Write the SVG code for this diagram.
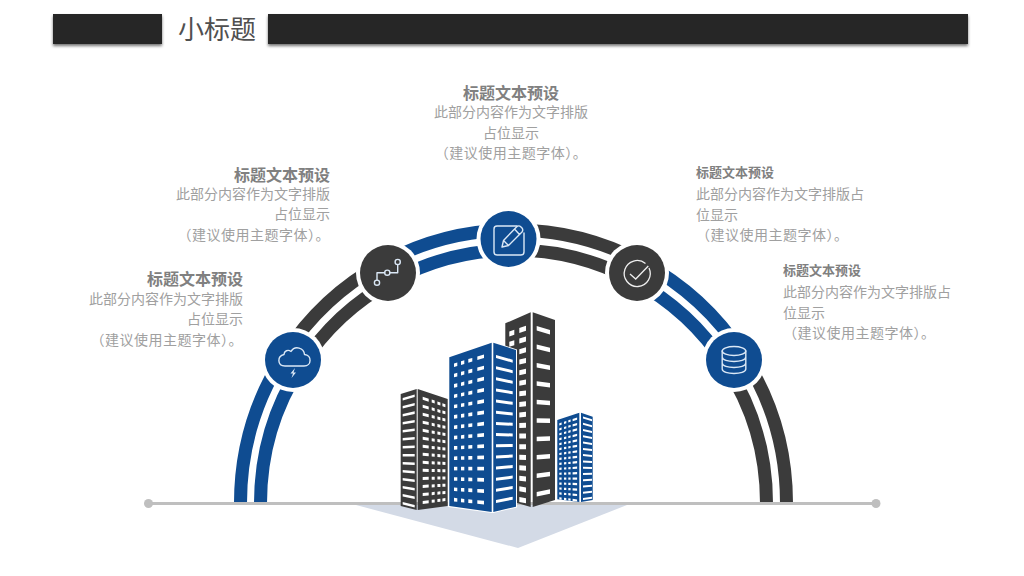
<svg xmlns="http://www.w3.org/2000/svg" width="1024" height="576" viewBox="0 0 1024 576">
<defs>
<filter id="sh" x="-5%" y="-30%" width="110%" height="170%"><feDropShadow dx="0" dy="2" stdDeviation="1.6" flood-color="#000" flood-opacity=".55"/></filter>
<g id="wBL" fill="#fff"><rect x="4.7" width="3.3" height="3.6"/><rect x="11.7" width="3.3" height="3.6"/><rect x="19" width="4" height="3.6"/><rect x="28" width="6.7" height="3.6"/></g>
<rect id="wBR" fill="#fff" width="16.7" height="3"/>
<rect id="wDL" fill="#fff" width="12" height="2.6"/>
<g id="wDR" fill="#fff"><rect x="5" width="6" height="3"/><rect x="14" width="3" height="3"/><rect x="19.7" width="3" height="3"/><rect x="24.7" width="3" height="3"/></g>
<g id="wTL" fill="#fff"><rect x="4" width="5" height="5"/><rect x="14" width="6.7" height="5"/></g>
<rect id="wTR" fill="#fff" width="13.3" height="4.5"/>
<g id="wSL" fill="#fff"><rect x="2" width="2.3" height="2.2"/><rect x="6.7" width="2.3" height="2.2"/><rect x="11" width="2.3" height="2.2"/><rect x="15.3" width="4.5" height="2.2"/></g>
<rect id="wSR" fill="#fff" width="9" height="2"/>
</defs>
<style>
text{font-family:"Noto Sans CJK SC","Liberation Sans",sans-serif}
.t{font-size:16px;font-weight:700;fill:#808080}
.t2{font-size:13px;font-weight:700;fill:#808080}
.b{font-size:14px;fill:#a0a0a0}
.w{letter-spacing:.5px}
.r{text-anchor:end}
.m{text-anchor:middle}
.bar{fill:#262626;filter:url(#sh)}
.arc{fill:none;stroke-width:13}
.bl{stroke:#0f4c91}
.dk{stroke:#3b3b3b}
.halo{fill:#fff}
.cb{fill:#0f4c91}
.cd{fill:#3b3b3b}
.ic{fill:none;stroke:#dbe8f6;stroke-width:1.4;stroke-linejoin:round;stroke-linecap:round}
.fb{fill:#0f4c91}
.fd{fill:#3b3b3b}
</style>
<rect width="1024" height="576" fill="#fff"/>
<g id="header">
<rect class="bar" x="53" y="14" width="109" height="30"/>
<rect class="bar" x="268" y="14" width="700" height="30"/>
<text x="178" y="39" font-size="26" fill="#505050">小标题</text>
</g>
<polygon id="floor" points="356,505 627,505 518,548" fill="#d3dae6"/>
<g id="connectors">
<path class="arc bl" d="M240.500 503A273 273 0 0 1 284.500 354.500"/>
<path class="arc dk" d="M284.500 354.500A273 273 0 0 1 382.700 263.300"/>
<path class="arc bl" d="M382.700 263.300A273 273 0 0 1 508.300 230"/>
<path class="arc dk" d="M508.300 230A273 273 0 0 1 642.600 262.500"/>
<path class="arc bl" d="M642.600 262.500A273 273 0 0 1 742.500 354.500"/>
<path class="arc dk" d="M742.500 354.500A273 273 0 0 1 786.500 503"/>
<path class="arc bl" d="M260.500 503A253 253 0 0 1 301.200 365.400"/>
<path class="arc dk" d="M301.200 365.400A253 253 0 0 1 392.300 280.900"/>
<path class="arc bl" d="M392.300 280.900A253 253 0 0 1 508.700 250"/>
<path class="arc dk" d="M508.700 250A253 253 0 0 1 633.200 280.100"/>
<path class="arc bl" d="M633.200 280.100A253 253 0 0 1 725.800 365.400"/>
<path class="arc dk" d="M725.800 365.400A253 253 0 0 1 766.500 503"/>
<line x1="148" y1="503.500" x2="876" y2="503.500" stroke="#bfbfbf" stroke-width="3"/>
<circle cx="148.500" cy="503.500" r="4.500" fill="#bfbfbf"/>
<circle cx="876" cy="503.500" r="4.500" fill="#bfbfbf"/>
</g>
<g id="node-cloud">
<circle class="halo" cx="293" cy="360" r="32"/><circle class="cb" cx="293" cy="360" r="28"/>
<path class="ic" d="M285 366H304C312 366 312 355 304.500 354.500C304 348 295 345 291 351.500C288 349 284 351 284 354.500C277 356 277 366 285 366Z"/>
<path d="M295 368L290.500 373.500H293L291.500 378L296 372.500H293.500Z" fill="#dbe8f6"/>
</g>
<g id="node-path">
<circle class="halo" cx="388" cy="273" r="32"/><circle class="cd" cx="388" cy="273" r="28"/>
<path class="ic" d="M377 280V272.700H384.700M390 272.700H397.700V264.500"/>
<circle class="ic" cx="377" cy="282.700" r="2.600"/><circle class="ic" cx="387.300" cy="272.700" r="2.600"/><circle class="ic" cx="397.700" cy="262" r="2.600"/>
</g>
<g id="node-edit">
<circle class="halo" cx="508.500" cy="239" r="32"/><circle class="cb" cx="508.500" cy="239" r="28"/>
<path class="ic" d="M517 226H497Q494 226 494 229V252Q494 255 497 255H521Q524 255 524 252V233"/>
<path class="ic" d="M502 247L503.500 240.500L517 226.500Q519 225 521 227L522 228Q523.500 230 522 232L508.500 245.500ZM503.500 240.500L508.500 245.500M514.500 229L519.500 234.500"/>
</g>
<g id="node-check">
<circle class="halo" cx="637" cy="273" r="32"/><circle class="cd" cx="637" cy="273" r="28"/>
<path d="M645.500 263.500A13 13 0 1 0 649 268" fill="none" stroke="#eee" stroke-width="1.300"/>
<path d="M630 274L635.700 279L648.300 266" fill="none" stroke="#eee" stroke-width="1.300"/>
</g>
<g id="node-db">
<circle class="halo" cx="734" cy="360" r="32"/><circle class="cb" cx="734" cy="360" r="28"/>
<ellipse class="ic" cx="734" cy="351" rx="11.800" ry="4.500"/>
<path class="ic" d="M722.200 351V369C722.200 375 745.800 375 745.800 369V351M722.200 357C722.200 363 745.800 363 745.800 357M722.200 363C722.200 369 745.800 369 745.800 363"/>
</g>
<g id="building-tall">
<polygon class="fd" points="505.300,323.300 530.700,312.300 530.700,507 517,503 505.300,503"/>
<polygon class="fd" points="532.700,312.300 555,320 555,500 532.700,507"/>
<use href="#wTL" transform="matrix(1,-.35,0,1,505.300,332.900)"/><use href="#wTL" transform="matrix(1,-.316,0,1,505.300,343)"/><use href="#wTL" transform="matrix(1,-.28,0,1,505.300,353.100)"/><use href="#wTL" transform="matrix(1,-.25,0,1,505.300,363.100)"/><use href="#wTL" transform="matrix(1,-.21,0,1,505.300,373.200)"/><use href="#wTL" transform="matrix(1,-.18,0,1,505.300,383.300)"/><use href="#wTL" transform="matrix(1,-.146,0,1,505.300,393.400)"/><use href="#wTL" transform="matrix(1,-.11,0,1,505.300,403.500)"/><use href="#wTL" transform="matrix(1,-.08,0,1,505.300,413.500)"/><use href="#wTL" transform="matrix(1,-.044,0,1,505.300,423.600)"/><use href="#wTL" transform="matrix(1,-.01,0,1,505.300,433.700)"/><use href="#wTL" transform="matrix(1,.024,0,1,505.300,443.800)"/><use href="#wTL" transform="matrix(1,.058,0,1,505.300,453.900)"/><use href="#wTL" transform="matrix(1,.09,0,1,505.300,463.900)"/><use href="#wTL" transform="matrix(1,.126,0,1,505.300,474)"/><use href="#wTL" transform="matrix(1,.16,0,1,505.300,484.100)"/><use href="#wTL" transform="matrix(1,.2,0,1,505.300,494.200)"/>
<use href="#wTR" transform="matrix(1,.3,0,1,536.700,326)"/><use href="#wTR" transform="matrix(1,.245,0,1,536.700,344.400)"/><use href="#wTR" transform="matrix(1,.19,0,1,536.700,362.900)"/><use href="#wTR" transform="matrix(1,.135,0,1,536.700,381.300)"/><use href="#wTR" transform="matrix(1,.08,0,1,536.700,399.800)"/><use href="#wTR" transform="matrix(1,.025,0,1,536.700,418.200)"/><use href="#wTR" transform="matrix(1,-.03,0,1,536.700,436.700)"/><use href="#wTR" transform="matrix(1,-.085,0,1,536.700,455.100)"/><use href="#wTR" transform="matrix(1,-.14,0,1,536.700,473.600)"/><use href="#wTR" transform="matrix(1,-.2,0,1,536.700,492)"/>
</g>
<g id="building-left">
<polygon class="fd" points="400.700,394 416.700,389 416.700,510 400.700,506"/>
<polygon class="fd" points="417.700,389 447.700,399 447.700,506 417.700,510"/>
<use href="#wDL" transform="matrix(1,-.3,0,1,402.700,398)"/><use href="#wDL" transform="matrix(1,-.26,0,1,402.700,406)"/><use href="#wDL" transform="matrix(1,-.22,0,1,402.700,414)"/><use href="#wDL" transform="matrix(1,-.17,0,1,402.700,422)"/><use href="#wDL" transform="matrix(1,-.13,0,1,402.700,430)"/><use href="#wDL" transform="matrix(1,-.09,0,1,402.700,438)"/><use href="#wDL" transform="matrix(1,-.05,0,1,402.700,446)"/><use href="#wDL" transform="matrix(1,-.01,0,1,402.700,454)"/><use href="#wDL" transform="matrix(1,.04,0,1,402.700,462)"/><use href="#wDL" transform="matrix(1,.08,0,1,402.700,470)"/><use href="#wDL" transform="matrix(1,.12,0,1,402.700,478)"/><use href="#wDL" transform="matrix(1,.16,0,1,402.700,486)"/><use href="#wDL" transform="matrix(1,.21,0,1,402.700,494)"/><use href="#wDL" transform="matrix(1,.25,0,1,402.700,502)"/>
<use href="#wDR" transform="matrix(1,.33,0,1,417.700,395)"/><use href="#wDR" transform="matrix(1,.295,0,1,417.700,403.200)"/><use href="#wDR" transform="matrix(1,.26,0,1,417.700,411.400)"/><use href="#wDR" transform="matrix(1,.225,0,1,417.700,419.600)"/><use href="#wDR" transform="matrix(1,.19,0,1,417.700,427.800)"/><use href="#wDR" transform="matrix(1,.155,0,1,417.700,436)"/><use href="#wDR" transform="matrix(1,.12,0,1,417.700,444.200)"/><use href="#wDR" transform="matrix(1,.085,0,1,417.700,452.400)"/><use href="#wDR" transform="matrix(1,.05,0,1,417.700,460.600)"/><use href="#wDR" transform="matrix(1,.015,0,1,417.700,468.800)"/><use href="#wDR" transform="matrix(1,-.02,0,1,417.700,477)"/><use href="#wDR" transform="matrix(1,-.055,0,1,417.700,485.200)"/><use href="#wDR" transform="matrix(1,-.09,0,1,417.700,493.400)"/><use href="#wDR" transform="matrix(1,-.13,0,1,417.700,501.600)"/>
</g>
<g id="building-main">
<polygon points="448,356.500 491.700,341.500 493.300,341.500 517,349.500 517,507.500 493.300,513 491.700,513 448,507" fill="#fff"/>
<polygon class="fb" points="449.300,357.300 491.700,342.700 491.700,512 449.300,506"/>
<polygon class="fb" points="493.300,342.700 516,350 516,506.700 493.300,512"/>
<use href="#wBL" transform="matrix(1,-.3,0,1,449.300,364.800)"/><use href="#wBL" transform="matrix(1,-.27,0,1,449.300,375)"/><use href="#wBL" transform="matrix(1,-.24,0,1,449.300,385.200)"/><use href="#wBL" transform="matrix(1,-.21,0,1,449.300,395.400)"/><use href="#wBL" transform="matrix(1,-.18,0,1,449.300,405.600)"/><use href="#wBL" transform="matrix(1,-.15,0,1,449.300,415.800)"/><use href="#wBL" transform="matrix(1,-.12,0,1,449.300,426)"/><use href="#wBL" transform="matrix(1,-.09,0,1,449.300,436.200)"/><use href="#wBL" transform="matrix(1,-.06,0,1,449.300,446.400)"/><use href="#wBL" transform="matrix(1,-.03,0,1,449.300,456.600)"/><use href="#wBL" transform="matrix(1,0,0,1,449.300,466.800)"/><use href="#wBL" transform="matrix(1,.03,0,1,449.300,477)"/><use href="#wBL" transform="matrix(1,.06,0,1,449.300,487.200)"/><use href="#wBL" transform="matrix(1,.1,0,1,449.300,497.400)"/>
<use href="#wBR" transform="matrix(1,.28,0,1,496,355)"/><use href="#wBR" transform="matrix(1,.243,0,1,496,366.200)"/><use href="#wBR" transform="matrix(1,.206,0,1,496,377.300)"/><use href="#wBR" transform="matrix(1,.169,0,1,496,388.500)"/><use href="#wBR" transform="matrix(1,.132,0,1,496,399.600)"/><use href="#wBR" transform="matrix(1,.095,0,1,496,410.800)"/><use href="#wBR" transform="matrix(1,.058,0,1,496,421.900)"/><use href="#wBR" transform="matrix(1,.021,0,1,496,433.100)"/><use href="#wBR" transform="matrix(1,-.016,0,1,496,444.200)"/><use href="#wBR" transform="matrix(1,-.053,0,1,496,455.400)"/><use href="#wBR" transform="matrix(1,-.09,0,1,496,466.500)"/><use href="#wBR" transform="matrix(1,-.127,0,1,496,477.700)"/><use href="#wBR" transform="matrix(1,-.164,0,1,496,488.800)"/><use href="#wBR" transform="matrix(1,-.2,0,1,496,500)"/>
</g>
<g id="building-small">
<polygon class="fb" points="557.300,420 579.300,412.700 579.300,502 557.300,499.300"/>
<polygon class="fb" points="581,412.700 592.700,416.700 592.700,500 581,502"/>
<use href="#wSL" transform="matrix(1,-.33,0,1,557.300,424)"/><use href="#wSL" transform="matrix(1,-.3,0,1,557.300,428.900)"/><use href="#wSL" transform="matrix(1,-.27,0,1,557.300,433.700)"/><use href="#wSL" transform="matrix(1,-.24,0,1,557.300,438.600)"/><use href="#wSL" transform="matrix(1,-.21,0,1,557.300,443.500)"/><use href="#wSL" transform="matrix(1,-.18,0,1,557.300,448.300)"/><use href="#wSL" transform="matrix(1,-.15,0,1,557.300,453.200)"/><use href="#wSL" transform="matrix(1,-.12,0,1,557.300,458.100)"/><use href="#wSL" transform="matrix(1,-.09,0,1,557.300,462.900)"/><use href="#wSL" transform="matrix(1,-.06,0,1,557.300,467.800)"/><use href="#wSL" transform="matrix(1,-.03,0,1,557.300,472.700)"/><use href="#wSL" transform="matrix(1,0,0,1,557.300,477.500)"/><use href="#wSL" transform="matrix(1,.03,0,1,557.300,482.400)"/><use href="#wSL" transform="matrix(1,.06,0,1,557.300,487.300)"/><use href="#wSL" transform="matrix(1,.09,0,1,557.300,492.100)"/><use href="#wSL" transform="matrix(1,.12,0,1,557.300,497)"/>
<use href="#wSR" transform="matrix(1,.3,0,1,583,416.500)"/><use href="#wSR" transform="matrix(1,.265,0,1,583,422.800)"/><use href="#wSR" transform="matrix(1,.23,0,1,583,429)"/><use href="#wSR" transform="matrix(1,.195,0,1,583,435.300)"/><use href="#wSR" transform="matrix(1,.16,0,1,583,441.600)"/><use href="#wSR" transform="matrix(1,.125,0,1,583,447.900)"/><use href="#wSR" transform="matrix(1,.09,0,1,583,454.100)"/><use href="#wSR" transform="matrix(1,.055,0,1,583,460.400)"/><use href="#wSR" transform="matrix(1,.02,0,1,583,466.700)"/><use href="#wSR" transform="matrix(1,-.015,0,1,583,473)"/><use href="#wSR" transform="matrix(1,-.05,0,1,583,479.200)"/><use href="#wSR" transform="matrix(1,-.085,0,1,583,485.500)"/><use href="#wSR" transform="matrix(1,-.12,0,1,583,491.800)"/><use href="#wSR" transform="matrix(1,-.15,0,1,583,498)"/>
</g>
<g id="label-center">
<text class="t m" x="511" y="98.500">标题文本预设</text>
<text class="b m" x="511" y="117">此部分内容作为文字排版</text>
<text class="b m" x="511" y="138">占位显示</text>
<text class="b m w" x="511" y="158">（建议使用主题字体）。</text>
</g>
<g id="label-left2">
<text class="t r" x="330" y="180.500">标题文本预设</text>
<text class="b r" x="330" y="199">此部分内容作为文字排版</text>
<text class="b r" x="330" y="219">占位显示</text>
<text class="b r w" x="330" y="240">（建议使用主题字体）。</text>
</g>
<g id="label-left1">
<text class="t r" x="243" y="285">标题文本预设</text>
<text class="b r" x="243" y="304">此部分内容作为文字排版</text>
<text class="b r" x="243" y="324">占位显示</text>
<text class="b r w" x="243" y="345">（建议使用主题字体）。</text>
</g>
<g id="label-right1">
<text class="t2" x="696" y="177">标题文本预设</text>
<text class="b" x="696" y="199">此部分内容作为文字排版占</text>
<text class="b" x="696" y="220">位显示</text>
<text class="b w" x="696" y="240">（建议使用主题字体）。</text>
</g>
<g id="label-right2">
<text class="t2" x="783" y="275">标题文本预设</text>
<text class="b" x="783" y="297">此部分内容作为文字排版占</text>
<text class="b" x="783" y="318">位显示</text>
<text class="b w" x="783" y="338">（建议使用主题字体）。</text>
</g>
</svg>
